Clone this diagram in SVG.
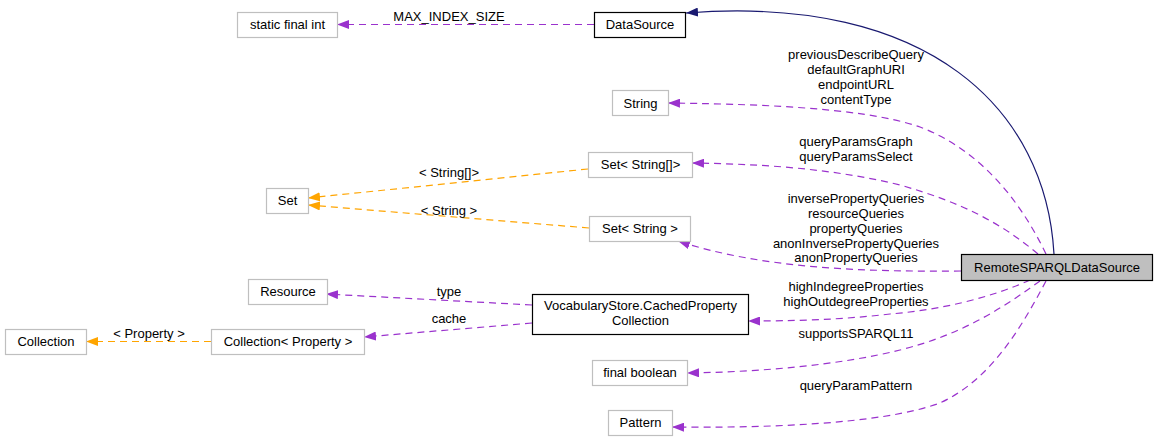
<svg xmlns="http://www.w3.org/2000/svg" width="1157" height="442" viewBox="0 0 1157 442">
<defs>
<marker id="ap" markerWidth="12" markerHeight="9" refX="12" refY="4.5" orient="auto" markerUnits="userSpaceOnUse"><path d="M0,0 L12,4.5 L0,9 Z" fill="#9a32cd"/></marker>
<marker id="ao" markerWidth="12" markerHeight="9" refX="12" refY="4.5" orient="auto" markerUnits="userSpaceOnUse"><path d="M0,0 L12,4.5 L0,9 Z" fill="#ffa500"/></marker>
<marker id="an" markerWidth="12" markerHeight="9" refX="12" refY="4.5" orient="auto" markerUnits="userSpaceOnUse"><path d="M0,0 L12,4.5 L0,9 Z" fill="#191970"/></marker>
</defs>
<style>
text{font-family:"Liberation Sans",Arial,sans-serif;font-size:13px;fill:#000;text-anchor:middle}
.ext{fill:#fff;stroke:#bfbfbf;stroke-width:1.2}
.doc{fill:#fff;stroke:#000;stroke-width:1.2}
.cur{fill:#bfbfbf;stroke:#000;stroke-width:1.2}
.p{fill:none;stroke:#9a32cd;stroke-width:1.2;stroke-dasharray:7,5;marker-end:url(#ap)}
.o{fill:none;stroke:#ffa500;stroke-width:1.2;stroke-dasharray:7,5;marker-end:url(#ao)}
.n{fill:none;stroke:#191970;stroke-width:1.2;marker-end:url(#an)}
</style>
<rect width="1157" height="442" fill="#fff"/>
<g id="connectors">
<path class="n" d="M1054,254 C1046,110 930,-6 686,13"/>
<path class="p" d="M594,24.5 L337,24.5"/>
<text x="449" y="20.5">MAX_INDEX_SIZE</text>
<path class="p" d="M1046,254 C1020,200 980,150 920,127 C860,106 740,104 668,103"/>
<text x="856" y="58.5">previousDescribeQuery</text>
<text x="856" y="73.5">defaultGraphURI</text>
<text x="856" y="88.5">endpointURL</text>
<text x="856" y="103.5">contentType</text>
<path class="p" d="M1038,254 C1000,222 960,202 900,185 C830,168 760,164 692,163"/>
<text x="856" y="145.5">queryParamsGraph</text>
<text x="856" y="160.5">queryParamsSelect</text>
<path class="p" d="M961,271 C860,272 760,268 678,241"/>
<text x="856" y="202.5">inversePropertyQueries</text>
<text x="856" y="217.5">resourceQueries</text>
<text x="856" y="232.5">propertyQueries</text>
<text x="856" y="247.5">anonInversePropertyQueries</text>
<text x="856" y="261.5">anonPropertyQueries</text>
<path class="p" d="M1030,280 C990,298 940,310 890,314 C840,320 790,321 748,321"/>
<text x="856" y="290.5">highIndegreeProperties</text>
<text x="856" y="305.5">highOutdegreeProperties</text>
<path class="p" d="M1040,281 C1000,310 960,335 900,350 C840,365 760,372 687,373"/>
<text x="856" y="337.5">supportsSPARQL11</text>
<path class="p" d="M1046,281 C1020,330 990,380 940,403 C880,425 760,428 672,427"/>
<text x="856" y="389.5">queryParamPattern</text>
<path class="p" d="M532,305 L326,294"/>
<text x="449" y="295.5">type</text>
<path class="p" d="M532,323 L364,337"/>
<text x="449" y="322.5">cache</text>
<path class="o" d="M588,169 L308,198"/>
<text x="449" y="176.5">&lt; String[]&gt;</text>
<path class="o" d="M589,228 L308,205"/>
<text x="449" y="214.5">&lt; String &gt;</text>
<path class="o" d="M211,341.5 L86,341.5"/>
<text x="149" y="337.5">&lt; Property &gt;</text>
</g>
<g id="n_staticfinalint"><rect class="ext" x="237.5" y="12.5" width="100" height="25"/><text x="287.5" y="29">static final int</text></g>
<g id="n_datasource"><rect class="doc" x="594.5" y="12.5" width="91" height="25"/><text x="640" y="29">DataSource</text></g>
<g id="n_string"><rect class="ext" x="612.5" y="90.5" width="56" height="25"/><text x="640.5" y="107.5">String</text></g>
<g id="n_setstringarr"><rect class="ext" x="588.5" y="152.5" width="104" height="25"/><text x="640.5" y="169">Set&lt; String[]&gt;</text></g>
<g id="n_set"><rect class="ext" x="266.5" y="188.5" width="42" height="25"/><text x="287.5" y="205">Set</text></g>
<g id="n_setstring"><rect class="ext" x="589.5" y="216.5" width="101" height="25"/><text x="640" y="233">Set&lt; String &gt;</text></g>
<g id="n_remote"><rect class="cur" x="961.5" y="254.5" width="191" height="26"/><text x="1057" y="272">RemoteSPARQLDataSource</text></g>
<g id="n_resource"><rect class="ext" x="248.5" y="279.5" width="79" height="25"/><text x="288" y="296">Resource</text></g>
<g id="n_vocab"><rect class="doc" x="532.5" y="294.5" width="216" height="40"/><text x="640.5" y="309.5">VocabularyStore.CachedProperty</text><text x="640.5" y="325">Collection</text></g>
<g id="n_collprop"><rect class="ext" x="211.5" y="329.5" width="153" height="25"/><text x="288" y="346">Collection&lt; Property &gt;</text></g>
<g id="n_collection"><rect class="ext" x="5.5" y="329.5" width="81" height="25"/><text x="46" y="346">Collection</text></g>
<g id="n_finalboolean"><rect class="ext" x="592.5" y="360.5" width="95" height="25"/><text x="640" y="377">final boolean</text></g>
<g id="n_pattern"><rect class="ext" x="608.5" y="410.5" width="64" height="25"/><text x="640.5" y="427">Pattern</text></g>
</svg>
